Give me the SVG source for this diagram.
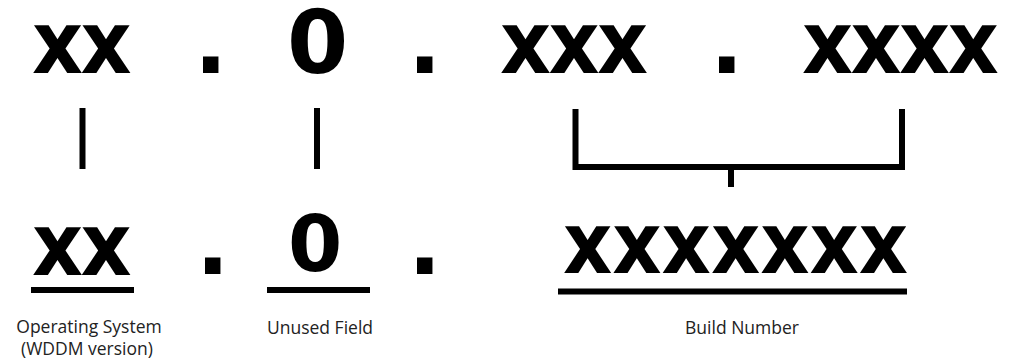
<svg xmlns="http://www.w3.org/2000/svg" width="1010" height="363" viewBox="0 0 1010 363">
<style>
.big{font-family:"DejaVu Sans",sans-serif;font-weight:bold;font-size:88px;fill:#000}
.xs{font-family:"DejaVu Sans Condensed","DejaVu Sans",sans-serif;letter-spacing:-2.5px}
.lbl{font-family:"Open Sans","Noto Sans",sans-serif;font-size:17.5px;fill:#222;text-anchor:middle}
.ln{stroke:#000;stroke-width:6;fill:none}
</style>
<rect width="1010" height="363" fill="#fff"/>
<g id="top-row">
<text class="big xs" x="32" y="73">xx</text>
<text class="big" x="194" y="73">.</text>
<text class="big" x="287" y="73">0</text>
<text class="big" x="408" y="73">.</text>
<text class="big xs" x="500" y="73">xxx</text>
<text class="big" x="710" y="73">.</text>
<text class="big xs" x="802" y="73">xxxx</text>
</g>
<g id="connectors">
<line class="ln" x1="82.5" y1="108" x2="82.5" y2="169"/>
<line class="ln" x1="317" y1="108" x2="317" y2="169"/>
<polyline class="ln" points="575.5,109 575.5,167 902,167 902,109"/>
<line class="ln" x1="731" y1="167" x2="731" y2="187"/>
</g>
<g id="node-os">
<text class="big xs" x="32" y="275">xx</text>
<line class="ln" x1="31" y1="290" x2="134" y2="290"/>
<text class="lbl" x="89" y="333">Operating System</text>
<text class="lbl" x="87" y="355">(WDDM version)</text>
</g>
<text class="big" x="196" y="274">.</text>
<g id="node-unused">
<text class="big" x="288" y="271" style="font-size:78px">0</text>
<line class="ln" x1="267" y1="290" x2="370" y2="290"/>
<text class="lbl" x="320" y="334">Unused Field</text>
</g>
<text class="big" x="408" y="274">.</text>
<g id="node-build">
<text class="big xs" x="563" y="273" style="font-size:85px;letter-spacing:0">xxxxxxx</text>
<line class="ln" x1="558" y1="291.5" x2="907" y2="291.5"/>
<text class="lbl" x="742" y="334">Build Number</text>
</g>
</svg>
